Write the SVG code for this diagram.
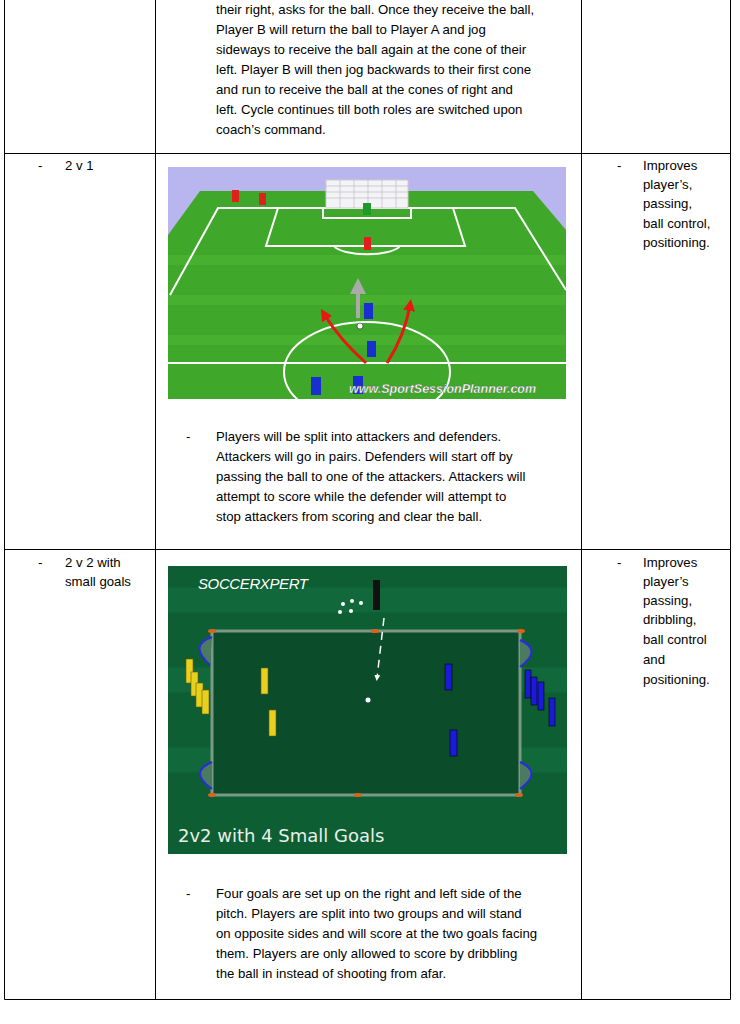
<svg xmlns="http://www.w3.org/2000/svg" width="740" height="1024" viewBox="0 0 740 1024">
<style>
.t{font-family:"Liberation Sans",Arial,sans-serif;font-size:13.2px;fill:#000}
.b{stroke:#000;stroke-width:1;fill:none}
.w{stroke:#fff;stroke-width:2;fill:none}
.red{fill:#e0201a}.blu{fill:#1a2fd0}.yel{fill:#e8d020;stroke:#6a5a00;stroke-width:.6}.bl2{fill:#1a1ad8;stroke:#000;stroke-width:.6}
</style>
<defs>
<marker id="ar" viewBox="0 0 10 10" refX="5" refY="5" markerWidth="4" markerHeight="4" orient="auto"><path d="M0,0L10,5L0,10z" fill="#e8170f"/></marker>
<marker id="ag" viewBox="0 0 10 10" refX="5" refY="5" markerWidth="4" markerHeight="4" orient="auto"><path d="M0,0L10,5L0,10z" fill="#aaa"/></marker>
<marker id="aw" viewBox="0 0 10 10" refX="5" refY="5" markerWidth="4" markerHeight="4" orient="auto"><path d="M0,0L10,5L0,10z" fill="#fff"/></marker>
</defs>
<rect width="740" height="1024" fill="#fff"/>
<g id="table">
<path class="b" d="M4.5,0V999.5H730.5V0M155.5,0V999.5M581.5,0V999.5M4.5,153.5H730.5M4.5,549.5H730.5"/>
</g>
<g id="row1">
<text class="t" x="216" y="14">their right, asks for the ball. Once they receive the ball,</text>
<text class="t" x="216" y="34">Player B will return the ball to Player A and jog</text>
<text class="t" x="216" y="54">sideways to receive the ball again at the cone of their</text>
<text class="t" x="216" y="74">left. Player B will then jog backwards to their first cone</text>
<text class="t" x="216" y="94">and run to receive the ball at the cones of right and</text>
<text class="t" x="216" y="114">left. Cycle continues till both roles are switched upon</text>
<text class="t" x="216" y="134">coach’s command.</text>
</g>
<g id="row2">
<text class="t" x="38" y="170">-</text><text class="t" x="65" y="170">2 v 1</text>
<text class="t" x="617" y="170">-</text>
<text class="t" x="643" y="170">Improves</text><text class="t" x="643" y="189">player’s,</text><text class="t" x="643" y="208">passing,</text><text class="t" x="643" y="228">ball control,</text><text class="t" x="643" y="247">positioning.</text>
<g id="img1">
<rect x="168" y="167" width="398" height="232" fill="#b9b5ee"/>
<polygon points="200,191 533,191 566,230 566,399 168,399 168,235" fill="#3fa82a"/>
<path d="M168,260H566M168,300H566M168,340H566" stroke="#4fbb34" stroke-width="10" opacity=".5"/>
<path class="w" d="M170,295L218,208H515L566,290M278,208L266,246H465L453,208M323,208V218H411V208M334,246A34,11 0 0 0 400,246M168,363H566"/>
<ellipse class="w" cx="367" cy="372" rx="83" ry="50"/>
<rect x="326" y="180" width="82" height="28" fill="#f4f4f8" stroke="#ccc"/>
<path d="M326,186H408M326,192H408M326,198H408M340,180V208M354,180V208M368,180V208M382,180V208M396,180V208" stroke="#bbb" stroke-width=".7"/>
<rect x="232" y="190" width="7" height="12" class="red"/><rect x="259" y="193" width="7" height="12" class="red"/>
<rect x="363" y="203" width="8" height="12" fill="#1e9a2a"/>
<rect x="364" y="237" width="7" height="13" class="red"/>
<path d="M358,318V286" stroke="#aaa" stroke-width="4" marker-end="url(#ag)"/>
<path d="M366,363Q340,340 324,314" stroke="#e8170f" stroke-width="3" fill="none" marker-end="url(#ar)"/>
<path d="M387,363Q405,335 410,305" stroke="#e8170f" stroke-width="3" fill="none" marker-end="url(#ar)"/>
<rect x="364" y="303" width="9" height="16" class="blu"/><rect x="367" y="341" width="9" height="16" class="blu"/>
<rect x="311" y="377" width="10" height="18" class="blu"/><rect x="353" y="376" width="10" height="18" class="blu"/>
<circle cx="360" cy="326" r="3" fill="#fff" stroke="#000" stroke-width=".5"/>
<text x="349" y="393" font-family="Liberation Sans,Arial,sans-serif" font-size="12.5" font-weight="bold" font-style="italic" fill="#fff" stroke="#555" stroke-width=".3">www.SportSessionPlanner.com</text>
</g>
<text class="t" x="186" y="441">-</text>
<text class="t" x="216" y="441">Players will be split into attackers and defenders.</text>
<text class="t" x="216" y="461">Attackers will go in pairs. Defenders will start off by</text>
<text class="t" x="216" y="481">passing the ball to one of the attackers. Attackers will</text>
<text class="t" x="216" y="501">attempt to score while the defender will attempt to</text>
<text class="t" x="216" y="521">stop attackers from scoring and clear the ball.</text>
</g>
<g id="row3">
<text class="t" x="38" y="567">-</text><text class="t" x="65" y="567">2 v 2 with</text><text class="t" x="65" y="586">small goals</text>
<text class="t" x="617" y="567">-</text>
<text class="t" x="643" y="567">Improves</text><text class="t" x="643" y="586">player’s</text><text class="t" x="643" y="605">passing,</text><text class="t" x="643" y="624">dribbling,</text><text class="t" x="643" y="644">ball control</text><text class="t" x="643" y="664">and</text><text class="t" x="643" y="684">positioning.</text>
<g id="img2">
<rect x="168" y="566" width="399" height="288" fill="#0d5e33"/>
<path d="M168,600H567M168,680H567M168,760H567" stroke="#11683a" stroke-width="25"/>
<rect x="212" y="631" width="308" height="164" fill="#0b4d2b" stroke="#7a9a85" stroke-width="3"/>
<path d="M212,637Q188,645 210,665M212,762Q188,772 212,789M520,640Q543,650 520,667M520,762Q543,772 520,789" stroke="#2a2ae0" stroke-width="2" fill="#4a7a60"/>
<g fill="#e0601a"><ellipse cx="212" cy="631" rx="4" ry="2"/><ellipse cx="375" cy="631" rx="4" ry="2"/><ellipse cx="521" cy="631" rx="4" ry="2"/><ellipse cx="212" cy="795" rx="4" ry="2"/><ellipse cx="358" cy="795" rx="4" ry="2"/><ellipse cx="519" cy="795" rx="4" ry="2"/></g>
<text x="198" y="589" font-family="Liberation Sans,Arial,sans-serif" font-size="15" font-style="italic" fill="#fff" textLength="110">SOCCERXPERT</text>
<rect x="373" y="580" width="7" height="30" fill="#111"/>
<g fill="#fff"><circle cx="343" cy="604" r="2"/><circle cx="352" cy="601" r="2"/><circle cx="361" cy="603" r="2"/><circle cx="340" cy="612" r="2"/><circle cx="351" cy="611" r="2"/><circle cx="368" cy="700" r="2.5"/></g>
<path d="M384,618L377,678" stroke="#fff" stroke-width="1.5" stroke-dasharray="8,6" marker-end="url(#aw)"/>
<g class="yel"><rect x="186" y="659" width="7" height="24"/><rect x="191" y="672" width="7" height="24"/><rect x="196" y="683" width="7" height="24"/><rect x="202" y="690" width="7" height="24"/><rect x="261" y="668" width="7" height="26"/><rect x="269" y="710" width="7" height="26"/></g>
<g class="bl2"><rect x="445" y="664" width="7" height="26"/><rect x="450" y="730" width="7" height="26"/><rect x="525" y="670" width="6" height="28"/><rect x="531" y="677" width="6" height="28"/><rect x="538" y="682" width="6" height="28"/><rect x="549" y="698" width="6" height="28"/></g>
<text x="178" y="842" font-family="DejaVu Sans,sans-serif" font-size="18" fill="#e8efe8">2v2 with 4 Small Goals</text>
</g>
<text class="t" x="186" y="898">-</text>
<text class="t" x="216" y="898">Four goals are set up on the right and left side of the</text>
<text class="t" x="216" y="918">pitch. Players are split into two groups and will stand</text>
<text class="t" x="216" y="938">on opposite sides and will score at the two goals facing</text>
<text class="t" x="216" y="958">them. Players are only allowed to score by dribbling</text>
<text class="t" x="216" y="978">the ball in instead of shooting from afar.</text>
</g>
</svg>
